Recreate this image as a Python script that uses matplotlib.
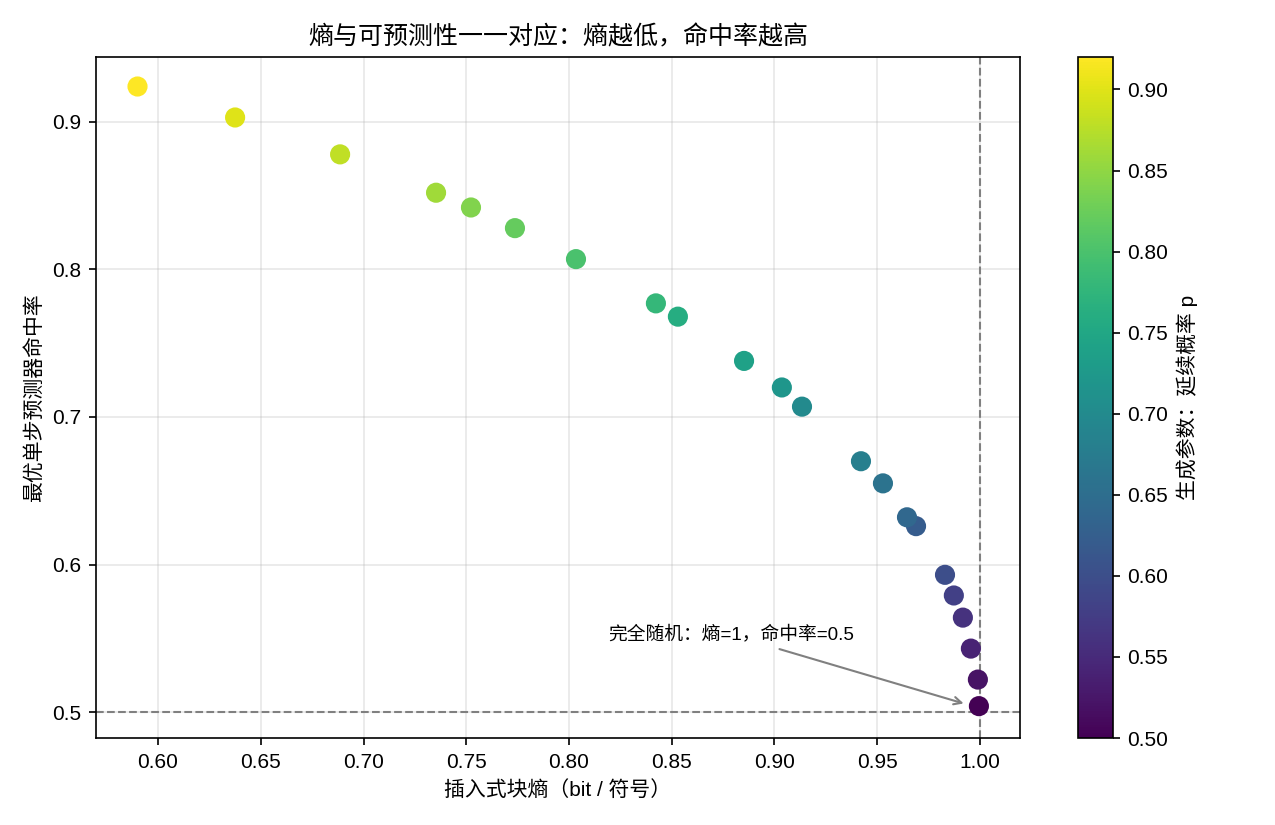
"""熵与可预测性散点图：插入式块熵 vs 最优单步预测器命中率。"""
import matplotlib
matplotlib.use('Agg')
import matplotlib.pyplot as plt

plt.rcParams['font.family'] = ['Liberation Sans', 'Noto Sans CJK SC']
plt.rcParams['axes.unicode_minus'] = False

# 生成参数 p（延续概率）
P_VALUES = [0.50, 0.52, 0.54, 0.56, 0.58, 0.60, 0.62, 0.64, 0.66, 0.68, 0.70,
            0.72, 0.74, 0.76, 0.78, 0.80, 0.82, 0.84, 0.86, 0.88, 0.90, 0.92]
# 插入式块熵 (bit / 符号)
ENTROPY = [0.9995, 0.9990, 0.9956, 0.9917, 0.9873, 0.9830, 0.9689, 0.9645,
           0.9528, 0.9421, 0.9134, 0.9036, 0.8852, 0.8530, 0.8423, 0.8034,
           0.7737, 0.7523, 0.7353, 0.6886, 0.6375, 0.5900]
# 最优单步预测器命中率
HIT_RATE = [0.504, 0.522, 0.543, 0.564, 0.579, 0.593, 0.626, 0.632, 0.655,
            0.670, 0.707, 0.720, 0.738, 0.768, 0.777, 0.807, 0.828, 0.842,
            0.852, 0.878, 0.903, 0.924]


def main():
    fig = plt.figure(figsize=(8.5, 5.5), dpi=150)
    ax = fig.add_axes([96 / 1275, 87 / 825, 924 / 1275, 681 / 825])
    cax = fig.add_axes([1078 / 1275, 87 / 825, 35 / 1275, 681 / 825])

    sc = ax.scatter(ENTROPY, HIT_RATE, c=P_VALUES, cmap='viridis', s=75,
                    zorder=3)
    cbar = fig.colorbar(sc, cax=cax)
    cbar.set_label('生成参数：延续概率 p')

    # 参考线：完全随机
    ax.axvline(1.0, color='gray', linestyle='--', linewidth=1)
    ax.axhline(0.5, color='gray', linestyle='--', linewidth=1)
    ax.annotate('完全随机：熵=1，命中率=0.5', xy=(0.994, 0.505),
                xytext=(0.819, 0.549), fontsize=9,
                arrowprops=dict(arrowstyle='->', color='gray', lw=1))

    ax.set_xlim(0.5698, 1.0195)
    ax.set_ylim(0.4824, 0.944)
    ax.set_xticks([0.60, 0.65, 0.70, 0.75, 0.80, 0.85, 0.90, 0.95, 1.00])
    ax.set_yticks([0.5, 0.6, 0.7, 0.8, 0.9])
    ax.grid(True, alpha=0.3)
    ax.set_xlabel('插入式块熵（bit / 符号）')
    ax.set_ylabel('最优单步预测器命中率')
    ax.set_title('熵与可预测性一一对应：熵越低，命中率越高')

    fig.savefig('out.png', dpi=150)
    plt.close(fig)


if __name__ == '__main__':
    main()
